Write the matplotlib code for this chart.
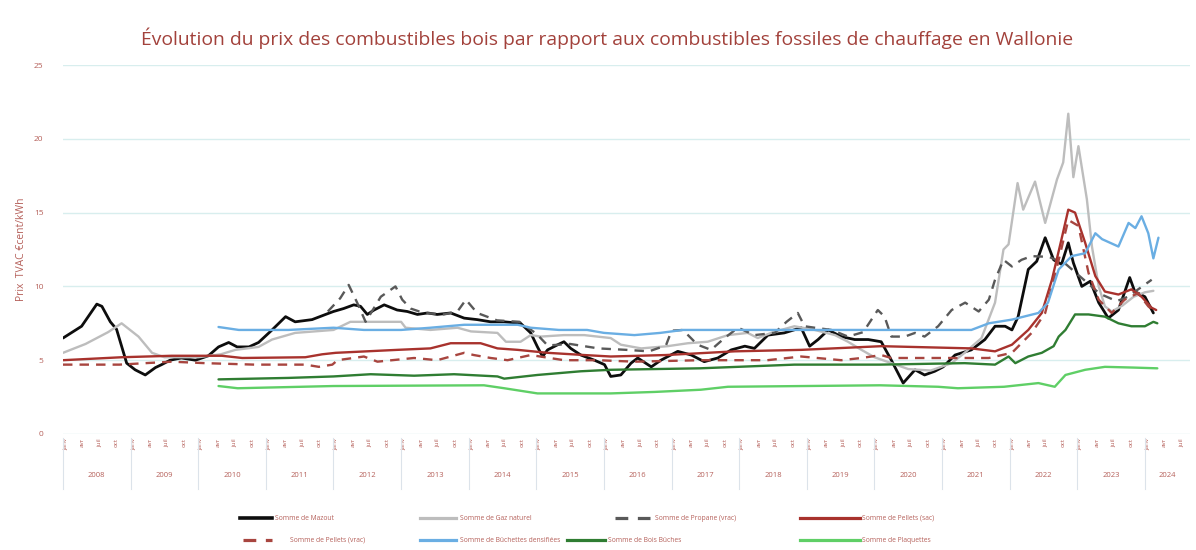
import matplotlib
matplotlib.use("Agg")
import matplotlib.pyplot as plt
from matplotlib.lines import Line2D
import matplotlib.transforms as mtransforms

# ---------------- data (month index from Jan 2008, value in €cent/kWh) -------------
mazout_m = [0, 3.3, 6, 6.9, 8.4, 9.5, 11.3, 12.8, 14.6, 16.4, 17.5, 19, 21, 23.5, 25.8, 27.6,
            29.4, 30.9, 33, 34.7, 37.1, 39.5, 41.2, 44.2, 46.6, 48, 49.8, 51.6, 52.8, 54, 55.2,
            57, 59.3, 61.1, 62.9, 64.7, 66.4, 68.8, 71.2, 73.5, 75.9, 78.3, 81.2, 83, 84.2, 85.1,
            86, 87.8, 88.9, 90.1, 91.9, 94.3, 96.1, 97.2, 99, 100.8, 102, 104.4, 106.1, 109.1,
            111.5, 113.8, 116.2, 118.6, 121, 122.7, 123.9, 125.1, 128, 131, 132.5, 134, 135.8,
            138.1, 140.5, 142.9, 145.2, 147, 149.1, 151.2, 152.9, 154.7, 156.2, 158.3, 161.2,
            163.6, 165.4, 167.2, 168.4, 169.5, 171.3, 172.8, 174.3, 175.8, 177.2, 178.4, 179.3,
            180.8, 182.3, 183.8, 185.5, 187.3, 189.3, 190.2, 192, 193.5]
mazout_v = [6.5, 7.3, 8.8, 8.65, 7.6, 7.1, 4.8, 4.35, 4.0, 4.5, 4.7, 5.0, 5.15, 5.0, 5.3, 5.9,
            6.2, 5.9, 5.9, 6.2, 7.05, 7.95, 7.6, 7.75, 8.1, 8.3, 8.5, 8.75, 8.65, 8.1, 8.4,
            8.75, 8.4, 8.3, 8.1, 8.2, 8.1, 8.2, 7.85, 7.75, 7.6, 7.6, 7.5, 6.85, 5.9, 5.25,
            5.7, 6.05, 6.25, 5.8, 5.35, 5.0, 4.7, 3.9, 4.0, 4.8, 5.15, 4.55, 5.0, 5.6,
            5.35, 4.9, 5.15, 5.7, 5.95, 5.8, 6.25, 6.7, 6.85, 7.2, 5.95, 6.4, 7.05,
            6.6, 6.4, 6.4, 6.25, 5.0, 3.45, 4.35, 4.0, 4.25, 4.55, 5.35, 5.7,
            6.4, 7.3, 7.3, 7.05, 7.95, 11.15, 11.7, 13.3, 11.8, 11.5, 12.95, 11.6,
            10.0, 10.35, 8.9, 7.85, 8.4, 10.6, 9.65, 9.3, 8.2]

gaz_m = [0, 4, 8, 10.4, 13.4, 15.8, 18, 24, 28, 30.6, 34.7, 37.1, 41.2, 48, 51, 60, 60.8,
         65.2, 70, 72.4, 77.1, 78.6, 81.2, 83, 84.8, 88.9, 92.5, 97.2, 99, 102.6, 107.3,
         110.9, 114.4, 118, 121.5, 123.3, 126, 129.8, 133.4, 137, 139.3, 141.7, 144, 147,
         150, 154, 157.7, 160, 163, 165.4, 166.9, 167.8, 169.4, 170.4, 172.5, 174.3, 176.4,
         177.5, 178.4, 179.3, 180.2, 181.7, 182.6, 183.8, 184.9, 186.1, 188, 190, 192, 193.5]
gaz_v = [5.5, 6.1, 6.9, 7.5, 6.6, 5.5, 5.2, 5.2, 5.4, 5.7, 5.9, 6.4, 6.85, 7.05, 7.6, 7.6, 7.2,
         7.05, 7.2, 6.95, 6.85, 6.25, 6.25, 6.7, 6.6, 6.7, 6.7, 6.5, 6.05, 5.8, 5.95,
         6.15, 6.25, 6.7, 6.85, 6.5, 6.9, 7.3, 7.05, 6.7, 6.25, 5.7, 5.2, 4.8,
         4.4, 4.3, 4.8, 5.5, 6.5, 8.9, 12.5, 12.85, 17.0, 15.2, 17.1, 14.3, 17.25,
         18.4, 21.7, 17.4, 19.5, 15.9, 12.7, 10.0, 8.65, 8.3, 8.7, 9.3, 9.6, 9.7]

propane_m = [47, 49.2, 50.7, 52.2, 53.7, 56.4, 59, 60.2, 61.7, 64, 67.6, 70, 71.5, 73.5, 77,
             81, 84, 86, 90, 95, 100, 104, 107, 108, 110, 112.6, 115, 117.4, 119.8, 122.7,
             126.3, 128.4, 130.4, 131.6, 133.4, 136.4, 139.3, 142, 144.6, 145.8, 147, 149.4,
             151.2, 152.9, 155.3, 157.7, 160.1, 162.5, 164.3, 165.4, 166.9, 168.4, 170.1,
             171.9, 175, 178, 181, 184, 187, 189, 190.8, 193.2]
propane_v = [8.3, 9.2, 10.1, 8.9, 7.6, 9.3, 10.0, 9.1, 8.5, 8.2, 8.1, 8.3, 9.1, 8.2, 7.7,
             7.6, 6.8, 6.0, 6.1, 5.8, 5.7, 5.6, 6.0, 7.0, 7.05, 6.05, 5.7, 6.5, 7.2, 6.7,
             6.85, 7.6, 8.2, 7.3, 7.2, 7.05, 6.6, 6.9, 8.4, 7.95, 6.6, 6.6,
             6.85, 6.6, 7.3, 8.4, 8.9, 8.3, 9.1, 10.45, 11.8, 11.35, 11.8,
             12.05, 12.0, 11.5, 10.5, 9.5, 9.0, 9.3, 9.8, 10.45]

pellets_sac_m = [0, 10.4, 19.3, 28.2, 31.8, 43, 46, 48.4, 59.3, 65.2, 68.8, 74.1, 77.1, 80.7,
                 86, 92.5, 97.2, 107, 119.2, 131, 145.2, 161.2, 165.4, 168.4, 171.3, 173.7,
                 175.5, 177.2, 178.4, 179.6, 181.4, 183.2, 184.9, 187.3, 189.6, 191.4,
                 193.2, 194]
pellets_sac_v = [5.0, 5.2, 5.3, 5.3, 5.15, 5.2, 5.4, 5.5, 5.7, 5.8, 6.15, 6.15, 5.8, 5.7,
                 5.5, 5.35, 5.25, 5.35, 5.6, 5.7, 5.95, 5.8, 5.6, 6.05, 7.05, 8.2,
                 10.45, 13.2, 15.2, 15.0, 12.95, 10.7, 9.65, 9.45, 9.8, 9.3,
                 8.55, 8.4]

pellets_vrac_m = [0, 10, 19.3, 25.2, 34, 43, 45.4, 47.8, 48.7, 53.4, 55.8, 62.3, 66.4, 71.2,
                  72.9, 75.9, 78.9, 83, 88.9, 94.9, 101.4, 113.2, 125, 131, 138.1, 141.7,
                  145.2, 147, 155.3, 164.3, 168.4, 171.9, 174.3, 176.7, 178.4, 180.2, 182,
                  183.8, 186.1, 188.4, 190.8, 192.6, 194]
pellets_vrac_v = [4.7, 4.7, 4.9, 4.8, 4.7, 4.7, 4.55, 4.7, 5.0, 5.25, 4.9, 5.15, 5.0, 5.5,
                  5.35, 5.15, 5.0, 5.35, 5.0, 5.0, 4.9, 5.0, 5.0, 5.25, 5.0, 5.15,
                  5.35, 5.15, 5.15, 5.15, 5.5, 6.85, 8.2, 11.8, 14.5, 14.1, 10.9,
                  9.1, 8.2, 9.1, 9.55, 8.65, 8.2]

buchettes_m = [27.6, 31.2, 40, 48, 53.4, 60, 65.2, 71.2, 80.7, 83, 88, 93, 96, 101.4, 106,
               110, 130, 150, 161.2, 164.3, 168.4, 173.1, 174.8, 176.7, 179, 181.4, 183.2,
               184.4, 187.3, 189.1, 190.3, 191.4, 192.6, 193.5, 194.4]
buchettes_v = [7.25, 7.05, 7.05, 7.2, 7.05, 7.05, 7.2, 7.4, 7.4, 7.2, 7.05, 7.05, 6.85, 6.7, 6.85,
               7.05, 7.05, 7.05, 7.05, 7.5, 7.75, 8.2, 8.9, 11.15, 12.05, 12.25, 13.6,
               13.2, 12.7, 14.3, 13.95, 14.75, 13.6, 11.9, 13.3]

bois_m = [27.6, 40, 48, 54.6, 62.3, 69.4, 77.1, 78.3, 84.2, 91.9, 97.2, 113, 129.8, 145,
          160, 165.4, 167.8, 169, 171.3, 173.7, 175.8, 176.7, 177.9, 179.6, 182, 184.9,
          187.3, 189.6, 192, 193.5, 194.2]
bois_v = [3.7, 3.8, 3.9, 4.05, 3.95, 4.05, 3.9, 3.75, 4.0, 4.25, 4.35, 4.45, 4.7, 4.7,
          4.8, 4.7, 5.25, 4.8, 5.25, 5.5, 5.95, 6.6, 7.05, 8.1, 8.1, 7.95,
          7.5, 7.3, 7.3, 7.6, 7.5]

plaquettes_m = [27.6, 31, 48, 74.7, 78.3, 84.2, 97.2, 105, 113.2, 118, 145, 155.3, 158.8,
                167, 173.1, 176, 177.9, 181.4, 184.9, 190, 194.2]
plaquettes_v = [3.25, 3.1, 3.25, 3.3, 3.1, 2.75, 2.75, 2.85, 3.0, 3.2, 3.3, 3.2, 3.1,
                3.2, 3.45, 3.2, 4.0, 4.35, 4.55, 4.5, 4.45]

years = list(range(2008, 2025))
month_labels = ["janv", "avr", "juil", "oct"]
n_months = 200

title = "Évolution du prix des combustibles bois par rapport aux combustibles fossiles de chauffage en Wallonie"
ylabel = "Prix  TVAC €cent/kWh"

series = [
    ("Somme de Mazout", mazout_m, mazout_v, "#0d0d0d", "-", 2.0),
    ("Somme de Gaz naturel", gaz_m, gaz_v, "#bdbdbd", "-", 1.7),
    ("Somme de Propane (vrac)", propane_m, propane_v, "#595959", (0, (4, 3)), 1.7),
    ("Somme de Pellets (sac)", pellets_sac_m, pellets_sac_v, "#a8322d", "-", 1.7),
    ("Somme de Pellets (vrac)", pellets_vrac_m, pellets_vrac_v, "#a8453f", (0, (4, 3)), 1.7),
    ("Somme de Bûchettes densifiées", buchettes_m, buchettes_v, "#6aaee3", "-", 1.7),
    ("Somme de Bois Bûches", bois_m, bois_v, "#2f7d32", "-", 1.7),
    ("Somme de Plaquettes", plaquettes_m, plaquettes_v, "#5fcf66", "-", 1.7),
]

# ---------------- figure ----------------
plt.rcParams['font.family'] = ['Open Sans', 'DejaVu Sans']
W, H = 1196, 550
fig = plt.figure(figsize=(W / 100, H / 100), dpi=100)
left, right, top, bottom = 63, 1190, 65, 434
ax = fig.add_axes([left / W, 1 - bottom / H, (right - left) / W, (bottom - top) / H])

txt_col = "#b5605a"
grid_col = "#d8eeee"

for name, xm, yv, col, ls, lw in series:
    ax.plot(xm, yv, color=col, linestyle=ls, linewidth=lw, solid_capstyle="round")

ax.set_xlim(0, n_months)
ax.set_ylim(0, 25)
ax.set_yticks(range(0, 26, 5))
ax.tick_params(axis="y", length=0, labelsize=6, labelcolor=txt_col, pad=14)
ax.yaxis.grid(True, color=grid_col, linewidth=1.0)
ax.set_axisbelow(True)
for s in ax.spines.values():
    s.set_visible(False)

# month ticks
ticks, labels = [], []
for i in range(0, n_months, 3):
    ticks.append(i + 0.5)
    labels.append(month_labels[(i // 3) % 4])
ax.set_xticks(ticks)
ax.set_xticklabels(labels, rotation=90, fontsize=4.5, color=txt_col)
ax.tick_params(axis="x", length=0, pad=3)

# year labels and separators
trans = mtransforms.blended_transform_factory(ax.transData, ax.transAxes)
for k, y in enumerate(years):
    start = k * 12
    end = min(start + 12, n_months)
    ax.text((start + end) / 2, -0.112, str(y), transform=trans, ha="center", va="center",
            fontsize=5.5, color=txt_col)
    ax.plot([start, start], [-0.01, -0.15], transform=trans, color="#dce3ea",
            linewidth=0.8, clip_on=False)

ax.set_ylabel(ylabel, fontsize=7.5, color=txt_col, labelpad=5)
fig.text(607 / W, 1 - 38 / H, title, ha="center", va="center", fontsize=13.9, color="#a2413b")

# legend (manual, Excel-like layout)
leg_rows = [518, 540]
leg_items = [
    (0, 240, 272, 275), (1, 420, 456, 460), (2, 615, 650, 655), (3, 800, 860, 862),
    (4, 243, 272, 290), (5, 420, 456, 460), (6, 567, 605, 608), (7, 800, 860, 862),
]
for idx, x0, x1, xt in leg_items:
    name, xm, yv, col, ls, lw = series[idx]
    yy = 1 - leg_rows[idx // 4] / H
    fig.add_artist(Line2D([x0 / W, x1 / W], [yy, yy], color=col, linestyle=ls,
                          linewidth=lw + 0.6, transform=fig.transFigure))
    fig.text(xt / W, yy, name, ha="left", va="center", fontsize=4.9, color=txt_col)

fig.savefig("out.png", dpi=100, facecolor="white")
